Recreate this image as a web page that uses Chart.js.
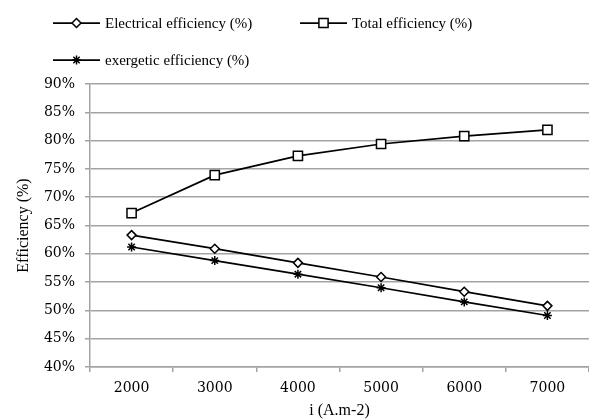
<!DOCTYPE html>
<html>
<head>
<meta charset="utf-8">
<script src="https://cdn.jsdelivr.net/npm/chart.js@4/dist/chart.umd.min.js"></script>
<style>
  html, body { margin: 0; padding: 0; background: #fff; }
  #wrap { width: 589px; height: 420px; }
</style>
</head>
<body>
<div id="wrap"><canvas id="effChart" width="589" height="420"></canvas></div>
<script>
// data
const currentDensity = ["2000", "3000", "4000", "5000", "6000", "7000"];
const electricalEff = [63.3, 60.9, 58.4, 55.9, 53.3, 50.8];
const totalEff = [67.2, 73.9, 77.3, 79.4, 80.8, 81.9];
const exergeticEff = [61.2, 58.8, 56.4, 54.0, 51.5, 49.1];
const seriesNames = ["Electrical efficiency (%)", "Total efficiency (%)", "exergetic efficiency (%)"];
const yTicks = [40, 45, 50, 55, 60, 65, 70, 75, 80, 85, 90];

const FONT = "'Liberation Serif', serif";
const NUMFONT = "'DejaVu Serif', serif";
const GRID = "#a3a3a3";

const ctx = document.getElementById("effChart").getContext("2d");

// legend drawn by hand so it sits like the original (two rows, fixed columns)
const sideLegend = {
  id: "sideLegend",
  afterDraw(chart) {
    const c = chart.ctx;
    const spots = [[53, 23], [300, 23], [53, 60]];
    chart.data.datasets.forEach((ds, i) => {
      const [x, y] = spots[i];
      c.save();
      c.strokeStyle = "#000";
      c.lineWidth = 1.75;
      c.beginPath();
      c.moveTo(x, y);
      c.lineTo(x + 47, y);
      c.stroke();
      c.fillStyle = "#fff";
      c.lineWidth = 1.5;
      Chart.helpers.drawPoint(c, {
        pointStyle: ds.pointStyle,
        radius: ds.pointRadius,
        borderWidth: 1.5,
        rotation: 0
      }, x + 23.5, y);
      c.fillStyle = "#000";
      c.font = "15px " + FONT;
      c.textBaseline = "middle";
      c.fillText(ds.label, x + 52, y + 1);
      c.restore();
    });
  }
};

const makeSet = (label, data, style, r) => ({
  label: label,
  data: data,
  borderColor: "#000",
  borderWidth: 1.75,
  pointStyle: style,
  pointRadius: r,
  pointHoverRadius: r,
  pointBackgroundColor: "#fff",
  pointBorderColor: "#000",
  pointBorderWidth: 1.5,
  tension: 0,
  fill: false
});

new Chart(ctx, {
  type: "line",
  data: {
    labels: currentDensity,
    datasets: [
      makeSet(seriesNames[0], electricalEff, "rectRot", 4.5),
      makeSet(seriesNames[1], totalEff, "rect", 6.5),
      makeSet(seriesNames[2], exergeticEff, "star", 4.5)
    ]
  },
  options: {
    responsive: false,
    animation: false,
    layout: { autoPadding: false, padding: { top: 84, right: 0, left: 0, bottom: 0 } },
    plugins: {
      legend: { display: false },
      tooltip: { enabled: false }
    },
    scales: {
      x: {
        offset: true,
        grid: {
          offset: true,
          drawOnChartArea: false,
          color: GRID,
          lineWidth: 1.5,
          tickLength: 5
        },
        border: { color: GRID, width: 1.5 },
        ticks: { color: "#000", font: { family: NUMFONT, size: 14 }, padding: 8, maxRotation: 0 },
        title: {
          display: true,
          text: "i (A.m-2)",
          color: "#000",
          font: { family: FONT, size: 16 },
          padding: { top: 7, bottom: 0 }
        },
        afterFit(scale) {
          scale.height = 53;
          scale.paddingLeft = 0;
          scale.paddingRight = 0;
        }
      },
      y: {
        min: 40,
        max: 90,
        afterBuildTicks(scale) { scale.ticks = yTicks.map(v => ({ value: v })); },
        grid: { color: GRID, lineWidth: 1.5, tickLength: 5 },
        border: { color: GRID, width: 1.5 },
        ticks: {
          color: "#000",
          font: { family: NUMFONT, size: 14 },
          padding: 10,
          callback: (v) => v + "%"
        },
        title: {
          display: true,
          text: "Efficiency (%)",
          color: "#000",
          font: { family: FONT, size: 16 },
          padding: { top: 14, bottom: 0 }
        },
        afterFit(scale) {
          scale.width = 90;
          scale.paddingTop = 0;
          scale.paddingBottom = 0;
        }
      }
    }
  },
  plugins: [sideLegend]
});
</script>
</body>
</html>
